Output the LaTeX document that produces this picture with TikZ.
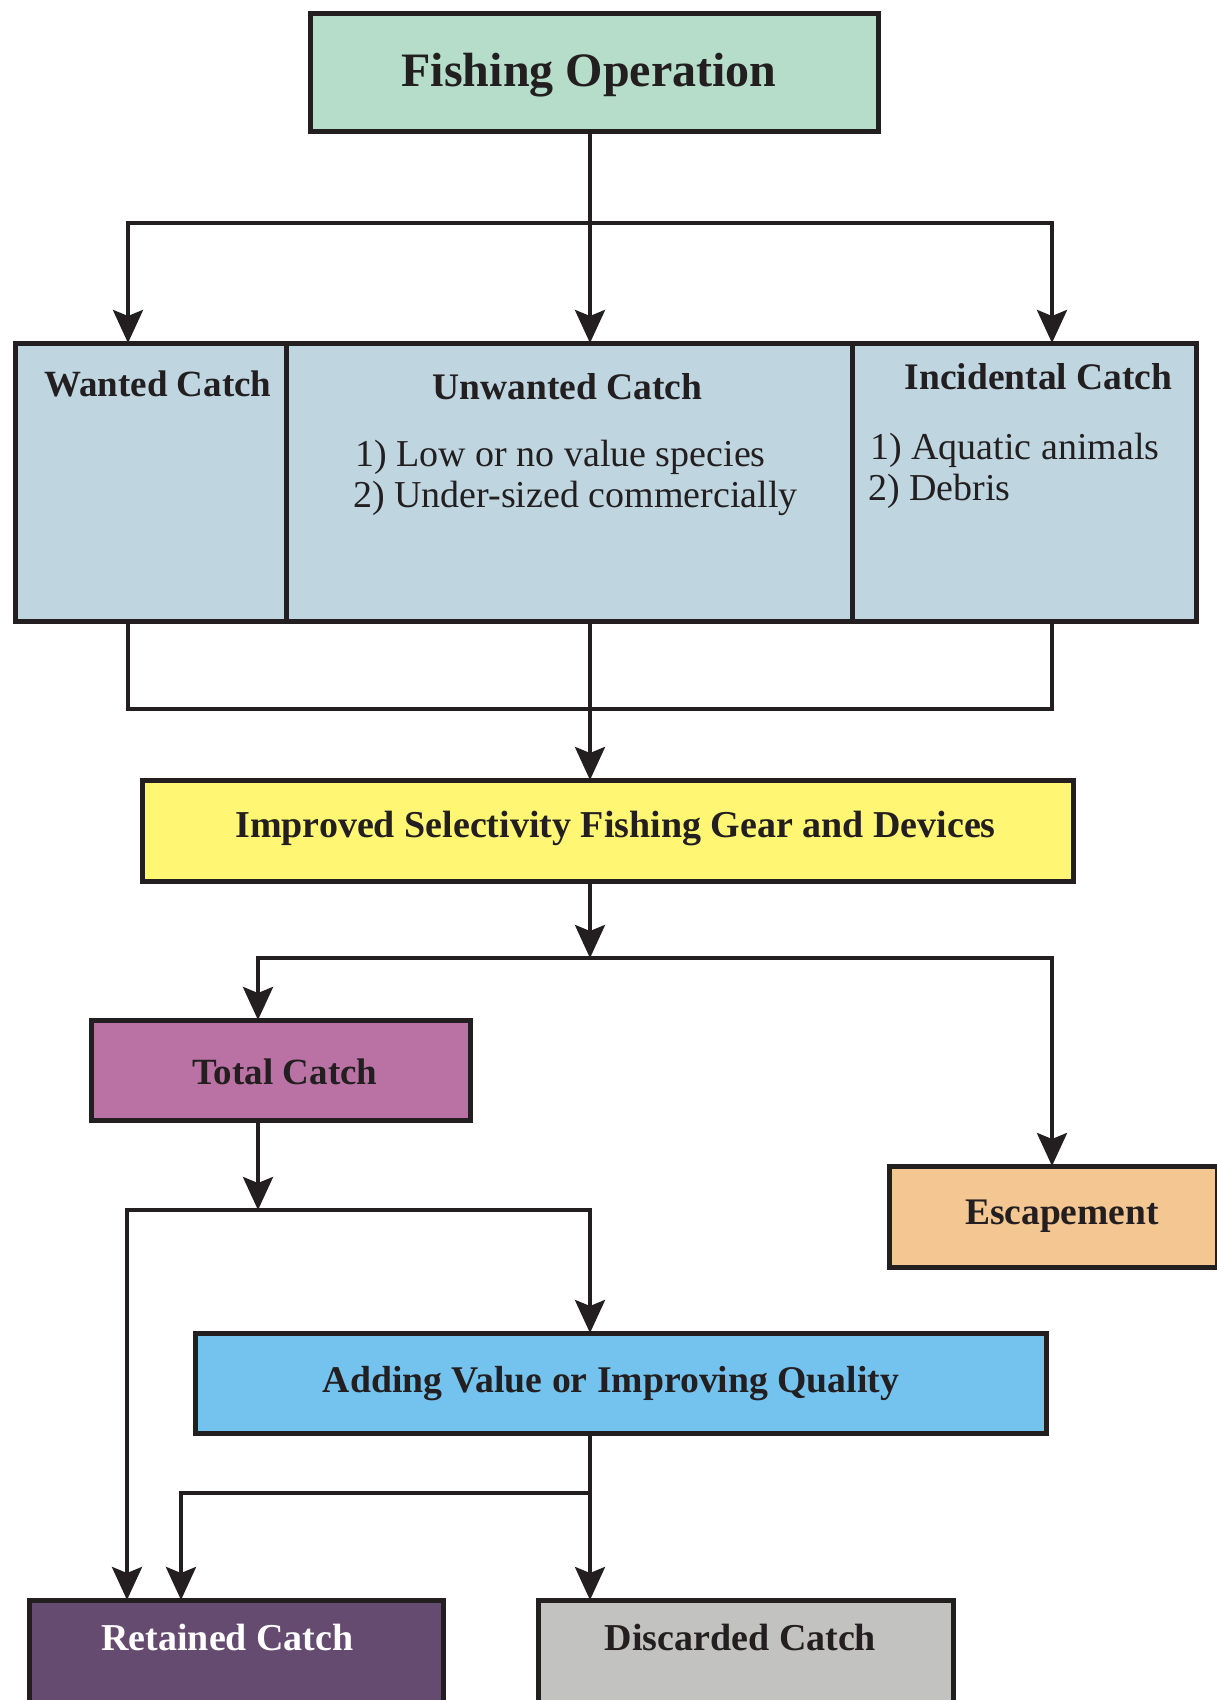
\documentclass[tikz,border=0pt]{standalone}
\usepackage{fontspec}
\setmainfont{Liberation Serif}
\usetikzlibrary{arrows.meta}
\definecolor{ink}{RGB}{35,31,32}
\definecolor{cfish}{RGB}{181,221,202}
\definecolor{ccatch}{RGB}{191,214,224}
\definecolor{cyellow}{RGB}{255,247,115}
\definecolor{ctotal}{RGB}{186,114,165}
\definecolor{cescape}{RGB}{244,198,146}
\definecolor{cblue}{RGB}{116,195,238}
\definecolor{cretain}{RGB}{101,75,112}
\definecolor{cdiscard}{RGB}{194,194,193}
\begin{document}
\begin{tikzpicture}[x=1pt,y=-1pt,
  box/.style={draw=ink, line width=5pt, inner sep=0pt, outer sep=0pt},
  conn/.style={draw=ink, line width=4pt, line cap=rect},
  arr/.style={draw=ink, line width=4pt, -{Stealth[length=33pt,width=30pt,inset=6pt]}},
  lbl/.style={anchor=base, inner sep=0pt, font=\fontsize{38}{44}\selectfont\bfseries, text=ink},
  item/.style={anchor=base west, inner sep=0pt, font=\fontsize{38}{42}\selectfont, text=ink}]
\useasboundingbox (0,0) rectangle (1217,1700);
\clip (0,0) rectangle (1217,1700);

% boxes
\node[box, fill=cfish, minimum width=568pt, minimum height=118pt] (fish) at (594,72) {};
\node[box, fill=ccatch, minimum width=271pt, minimum height=278pt] (wanted) at (150.5,482) {};
\node[box, fill=ccatch, minimum width=566pt, minimum height=278pt] (unwanted) at (569,482) {};
\node[box, fill=ccatch, minimum width=344pt, minimum height=278pt] (incid) at (1024,482) {};
\node[box, fill=cyellow, minimum width=931pt, minimum height=101pt] (yellow) at (607.5,830.5) {};
\node[box, fill=ctotal, minimum width=379pt, minimum height=100pt] (total) at (280.5,1070) {};
\node[box, fill=cescape, minimum width=328pt, minimum height=101pt] (escape) at (1053,1216.5) {};
\node[box, fill=cblue, minimum width=851pt, minimum height=100pt] (blue) at (620.5,1383) {};
\node[box, fill=cretain, minimum width=414pt, minimum height=160pt] (retained) at (236,1680) {};
\node[box, fill=cdiscard, minimum width=415pt, minimum height=160pt] (discarded) at (745.5,1680) {};

% texts
\node[lbl, font=\fontsize{48}{56}\selectfont\bfseries] (tfish) at (589,86) {Fishing Operation};
\node[lbl, font=\fontsize{37}{44}\selectfont\bfseries] (twanted) at (158,396) {Wanted Catch};
\node[lbl, font=\fontsize{37.5}{44}\selectfont\bfseries] (tunwanted) at (567.5,399) {Unwanted Catch};
\node[lbl, font=\fontsize{37.5}{44}\selectfont\bfseries] (tincid) at (1038.5,389) {Incidental Catch};
\node[item] (u1) at (355,466) {1) Low or no value species};
\node[item] (u2) at (353,507) {2) Under-sized commercially};
\node[item] (i1) at (870,459) {1) Aquatic animals};
\node[item] (i2) at (868,500) {2) Debris};
\node[lbl] (tyellow) at (615.5,837) {Improved Selectivity Fishing Gear and Devices};
\node[lbl, font=\fontsize{37}{44}\selectfont\bfseries] (ttotal) at (285,1084) {Total Catch};
\node[lbl, font=\fontsize{37.5}{44}\selectfont\bfseries] (tescape) at (1062,1224) {Escapement};
\node[lbl, font=\fontsize{37.7}{44}\selectfont\bfseries] (tblue) at (611,1392) {Adding Value or Improving Quality};
\node[lbl, text=white] (tretained) at (227.5,1650) {Retained Catch};
\node[lbl] (tdiscarded) at (740.5,1650) {Discarded Catch};

% connectors
\coordinate (s1) at (590,223);
\coordinate (s1l) at (128,223);
\coordinate (s1r) at (1052,223);
\draw[conn] (s1 |- fish.south) -- (s1);
\draw[conn] (s1l) -- (s1r);
\draw[arr] (s1l) -- (s1l |- wanted.north);
\draw[arr] (s1) -- (s1 |- unwanted.north);
\draw[arr] (s1r) -- (s1r |- incid.north);

\coordinate (m1) at (590,709);
\coordinate (m1l) at (128,709);
\coordinate (m1r) at (1052,709);
\draw[conn] (m1l |- wanted.south) -- (m1l) -- (m1r) -- (m1r |- incid.south);
\draw[conn] (m1 |- unwanted.south) -- (m1);
\draw[arr] (m1) -- (m1 |- yellow.north);

\coordinate (s2) at (590,958);
\coordinate (s2l) at (258,958);
\coordinate (s2r) at (1052,958);
\draw[arr] (s2 |- yellow.south) -- (s2);
\draw[conn] (s2l) -- (s2r);
\draw[arr] (s2l) -- (s2l |- total.north);
\draw[arr] (s2r) -- (s2r |- escape.north);

\coordinate (s3) at (258,1210);
\coordinate (s3l) at (127,1210);
\coordinate (s3r) at (590,1210);
\draw[arr] (s3 |- total.south) -- (s3);
\draw[conn] (s3l) -- (s3r);
\draw[arr] (s3r) -- (s3r |- blue.north);
\draw[arr] (s3l) -- (s3l |- retained.north);

\coordinate (s4) at (590,1493);
\coordinate (s4l) at (181,1493);
\draw[arr] (s4 |- blue.south) -- (s4 |- discarded.north);
\draw[conn] (s4) -- (s4l);
\draw[arr] (s4l) -- (s4l |- retained.north);
\end{tikzpicture}
\end{document}
